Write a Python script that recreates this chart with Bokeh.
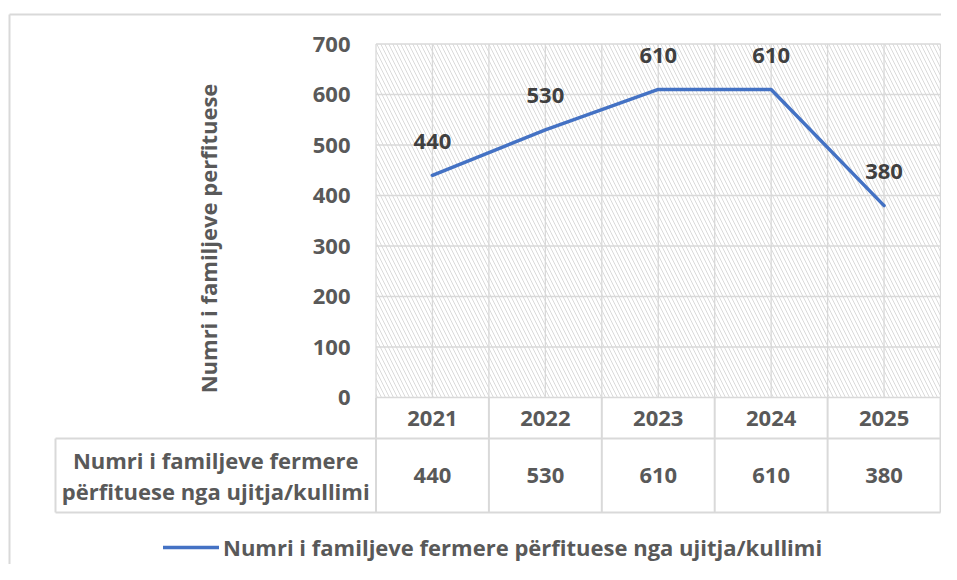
import numpy as np
from bokeh.plotting import figure
from bokeh.models import Range1d, ColumnDataSource, Legend, LegendItem
from bokeh.core.properties import value
from bokeh.embed import file_html
from bokeh.resources import INLINE

# ---------------- data ----------------
years = ["2021", "2022", "2023", "2024", "2025"]
families = [440, 530, 610, 610, 380]
y_ticks = [0, 100, 200, 300, 400, 500, 600, 700]
y_tick_labels = [str(t) for t in y_ticks]
series_name = "Numri i familjeve fermere përfituese nga ujitja/kullimi"
row_label = "Numri i familjeve fermere\npërfituese nga ujitja/kullimi"
y_title = "Numri i familjeve perfituese"

# ---------------- layout (canvas px) ----------------
W, H = 941, 564
PL, PR, PT, PB = 375.5, 940.0, 43.5, 397.0   # plot area
HDR_B = 438.0          # header row bottom
TBL_B = 512.0          # table bottom
TBL_L = 55.0           # row-label cell left
FONT_NAME = "Open Sans"
FONT = value(FONT_NAME)
FS = "22px"
AX_COL = "#595959"
GRID_COL = "#d9d9d9"
LINE_COL = "#4472C4"

n = len(years)
ymax = y_ticks[-1]
cw = (PR - PL) / n
ppu = (PB - PT) / ymax
x_start = -0.5 - PL / cw
x_end = n - 0.5 + (W - PR) / cw
y_end = ymax + PT / ppu
y_start = -(H - PB) / ppu

p = figure(width=W, height=H, x_range=Range1d(x_start, x_end),
           y_range=Range1d(y_start, y_end), output_backend="svg",
           toolbar_location=None, min_border=0,
           x_axis_type=None, y_axis_type=None)
p.grid.visible = False
p.outline_line_color = None
p.extra_x_ranges = {"px": Range1d(0, W)}
p.extra_y_ranges = {"px": Range1d(H, 0)}

xi = list(range(n))

# outer chart border (left and top visible)
p.segment(x0=[9, 9], y0=[14, 14], x1=[W, 9], y1=[14, H], line_color=GRID_COL,
          line_width=2, x_range_name="px", y_range_name="px")

# hatched plot area
p.quad(left=-0.5, right=n - 0.5, bottom=0, top=ymax, fill_alpha=0, line_color=None,
       hatch_pattern="left_diagonal_line", hatch_color="#dadada",
       hatch_scale=8, hatch_weight=1)

# gridlines
p.segment(x0=[-0.5] * len(y_ticks), x1=[n - 0.5] * len(y_ticks), y0=y_ticks, y1=y_ticks,
          line_color=GRID_COL, line_width=1.3)
vx = list(np.arange(-0.5, n, 0.5))
p.segment(x0=vx, x1=vx, y0=[0] * len(vx), y1=[ymax] * len(vx),
          line_color=GRID_COL, line_width=1.3)

# data table lines
bx = list(np.arange(-0.5, n, 1.0))
p.segment(x0=bx, x1=bx, y0=[PB] * len(bx), y1=[TBL_B] * len(bx),
          line_color=GRID_COL, line_width=2, y_range_name="px")
p.segment(x0=[TBL_L, TBL_L, TBL_L], x1=[PR, PR, TBL_L], y0=[HDR_B, TBL_B, HDR_B],
          y1=[HDR_B, TBL_B, TBL_B], line_color=GRID_COL, line_width=2,
          x_range_name="px", y_range_name="px")

# series line
src = ColumnDataSource(dict(x=xi, y=families, lab=[str(v) for v in families], yr=years))
line_r = p.line("x", "y", source=src, line_color=LINE_COL, line_width=3.5,
                line_cap="round", line_join="round")

# data labels
p.text("x", "y", text="lab", source=src, text_align="center", text_baseline="middle",
       y_offset=-34, text_font=FONT, text_font_style="bold", text_font_size=FS,
       text_color="#404040")

# y tick labels
p.text(x=[350] * len(y_ticks), y=y_ticks, text=y_tick_labels, text_align="right",
       text_baseline="middle", text_font=FONT, text_font_style="bold",
       text_font_size=FS, text_color=AX_COL, x_range_name="px")

# y axis title
p.text(x=[207], y=[238], text=[y_title], angle=np.pi / 2, text_align="center",
       text_baseline="middle", text_font=FONT, text_font_style="bold",
       text_font_size=FS, text_color=AX_COL, x_range_name="px", y_range_name="px")

# table header years
p.text(x=xi, y=[(PB + HDR_B) / 2] * n, text=years, text_align="center",
       text_baseline="middle", text_font=FONT, text_font_style="bold",
       text_font_size=FS, text_color=AX_COL, y_range_name="px")
# table values
p.text(x=xi, y=[(HDR_B + TBL_B) / 2] * n, text=[str(v) for v in families],
       text_align="center", text_baseline="middle", text_font=FONT,
       text_font_style="bold", text_font_size=FS, text_color=AX_COL, y_range_name="px")
# row label
p.text(x=[(TBL_L + PL) / 2], y=[(HDR_B + TBL_B) / 2], text=[row_label],
       text_align="center", text_baseline="middle", text_font=FONT,
       text_font_style="bold", text_font_size=FS, text_color=AX_COL,
       text_line_height=1.05, x_range_name="px", y_range_name="px")

# legend
legend = Legend(items=[LegendItem(label=series_name, renderers=[line_r])],
                location=(163, 2), orientation="horizontal",
                glyph_width=56, glyph_height=24, label_height=24,
                label_standoff=4, padding=0, margin=0, spacing=0,
                border_line_color=None, background_fill_alpha=0,
                label_text_font=FONT_NAME, label_text_font_style="bold",
                label_text_font_size=FS, label_text_color=AX_COL)
p.add_layout(legend)

open("out.html", "w").write(file_html(p, INLINE))
